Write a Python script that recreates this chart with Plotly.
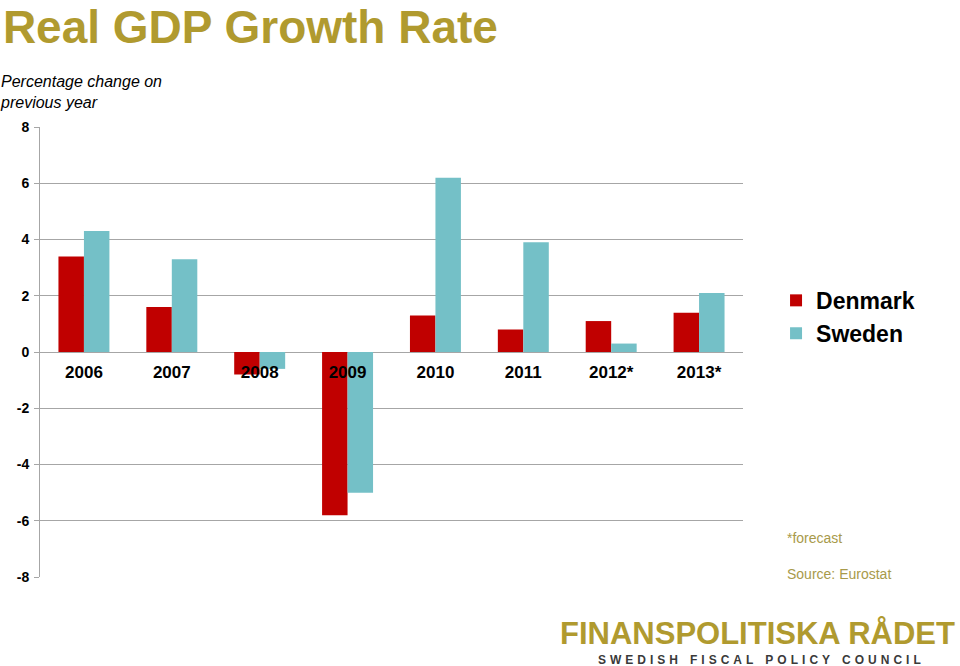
import plotly.graph_objects as go

categories = ["2006", "2007", "2008", "2009", "2010", "2011", "2012*", "2013*"]
denmark = [3.4, 1.6, -0.8, -5.8, 1.3, 0.8, 1.1, 1.4]
sweden = [4.3, 3.3, -0.6, -5.0, 6.2, 3.9, 0.3, 2.1]
y_ticks = [-8, -6, -4, -2, 0, 2, 4, 6, 8]
y_tick_text = [str(v) for v in y_ticks]

FONT = "Liberation Sans, Arial, sans-serif"
GOLD = "#B09A2F"
GRID = "#A6A6A6"

fig = go.Figure()
fig.add_trace(go.Bar(name="Denmark", x=categories, y=denmark, marker_color="#C00000",
                     marker_line_width=0))
fig.add_trace(go.Bar(name="Sweden", x=categories, y=sweden, marker_color="#74C0C7",
                     marker_line_width=0))

fig.update_layout(
    width=960, height=666,
    margin=dict(l=40, r=217, t=127, b=89),
    paper_bgcolor="white", plot_bgcolor="white",
    barmode="group", bargap=0.42, bargroupgap=0,
    font=dict(family=FONT, color="black"),
    title=dict(text="Real GDP Growth Rate", x=0.003, xanchor="left", xref="container",
               y=1 - 27 / 666, yanchor="middle", yref="container",
               font=dict(size=46, family=FONT, color=GOLD, weight="bold")),
    showlegend=True,
    legend=dict(x=1.047, y=0.578, xanchor="left", yanchor="middle",
                font=dict(size=23, family=FONT, color="black", weight="bold"),
                itemwidth=30, tracegroupgap=0, bgcolor="rgba(0,0,0,0)"),
    xaxis=dict(anchor="free", position=0.5, showline=False, ticks="",
               showgrid=False,
               tickfont=dict(size=17, family=FONT, color="black", weight="bold"),
               ticklabelstandoff=8),
    yaxis=dict(range=[-8, 8], tickvals=y_ticks, ticktext=y_tick_text, showgrid=True,
               gridcolor=GRID, gridwidth=1, zeroline=True, zerolinecolor=GRID,
               zerolinewidth=1, showline=True, linecolor=GRID, linewidth=1,
               ticks="outside", ticklen=5, tickcolor=GRID, ticklabelstandoff=2,
               tickfont=dict(size=14, family=FONT, color="black", weight="bold")),
)

fig.add_annotation(text="Percentage change on<br>previous year", xref="paper", yref="paper",
                   x=0, y=1.0, xanchor="left", yanchor="middle", align="left",
                   xshift=-42, yshift=35, showarrow=False,
                   font=dict(size=16, family=FONT, color="black", style="italic"))
fig.add_annotation(text="*forecast", xref="paper", yref="paper",
                   x=1.06, y=0.086, xanchor="left", yanchor="middle",
                   showarrow=False, font=dict(size=14, family=FONT, color="#A89A4A"))
fig.add_annotation(text="Source: Eurostat", xref="paper", yref="paper",
                   x=1.06, y=0.007, xanchor="left", yanchor="middle",
                   showarrow=False, font=dict(size=14, family=FONT, color="#A89A4A"))
fig.add_annotation(text="FINANSPOLITISKA RÅDET", xref="paper", yref="paper",
                   x=1.305, y=-0.125, xanchor="right", yanchor="middle",
                   showarrow=False, font=dict(size=31, family=FONT, color=GOLD, weight="bold"))

sub = "SWEDISH FISCAL POLICY COUNCIL"
spaced = ("\u2004" * 3).join("\u2004".join(word) for word in sub.split(" "))
fig.add_annotation(text=spaced, xref="paper", yref="paper",
                   x=1.024, y=-0.184, xanchor="center", yanchor="middle",
                   showarrow=False, font=dict(size=12, family=FONT, color="#3A3A3A", weight="bold"))

fig.write_html("out.html")
